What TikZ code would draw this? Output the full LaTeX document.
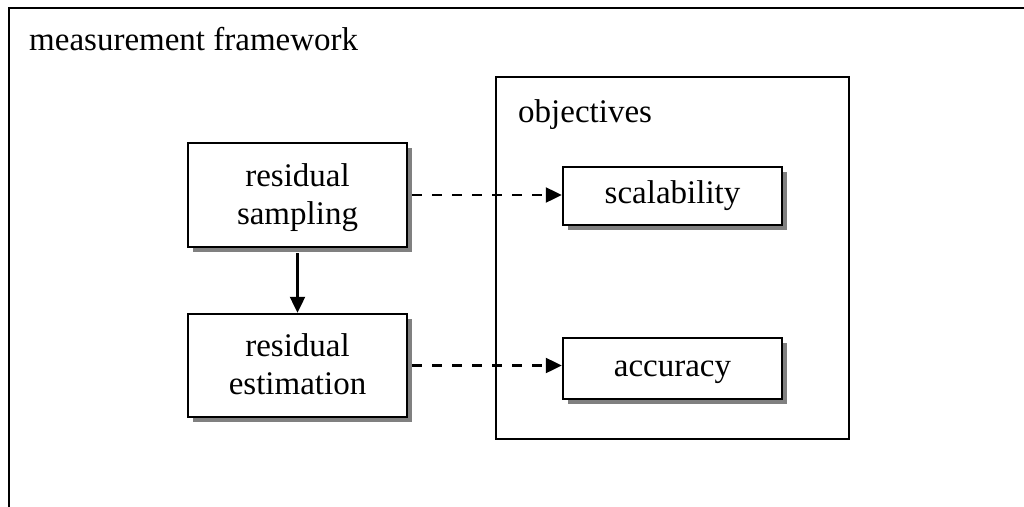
\documentclass[tikz,border=0pt]{standalone}
\usepackage{fontspec}
\setmainfont{Liberation Serif}
\usetikzlibrary{shadows,arrows.meta}
\definecolor{shadowgray}{HTML}{808080}
\newcommand{\topstrut}{\rule{0pt}{28pt}}
\newcommand{\botstrut}{\rule[-8pt]{0pt}{8pt}}
\newcommand{\onestrut}{\rule[-8pt]{0pt}{31pt}}
\tikzset{
  frameline/.style={line width=2.4pt, draw=black},
  boxnode/.style={draw=black, line width=2.4pt, fill=white, minimum width=219pt,
    align=center, inner sep=0pt,
    drop shadow={shadow xshift=5pt, shadow yshift=-5pt, fill=shadowgray, opacity=1}},
  lbl/.style={anchor=base west, inner sep=0pt},
  conn/.style={line width=2.2pt, -{Triangle[length=16pt,width=15pt]}},
  dashconn/.style={conn, dash pattern=on 10pt off 10pt},
}
\begin{document}
\begin{tikzpicture}[x=1pt, y=-1pt, font=\fontsize{33}{38}\selectfont]
\useasboundingbox (0,0) rectangle (1024,506);
% outer frame (open at right and bottom)
\coordinate (fbl) at (9,508);
\coordinate (ftl) at (9,8);
\coordinate (ftr) at (1026,8);
\draw[frameline] (fbl) -- (ftl) -- (ftr);
\node[lbl] (title) at (29,50) {measurement framework};
% objectives box
\node[frameline, minimum width=353pt, minimum height=362pt, inner sep=0pt] (obj) at (672.5,258) {};
\node[lbl] (objlbl) at (518,122) {objectives};
% boxes
\node[boxnode, minimum height=104pt] (samp) at (297.5,195) {\topstrut residual\\sampling\botstrut};
\node[boxnode, minimum height=103pt] (est) at (297.5,365.5) {\topstrut residual\\estimation\botstrut};
\node[boxnode, minimum height=58pt] (scal) at (672.5,196) {\onestrut scalability};
\node[boxnode, minimum height=61pt] (acc) at (672.5,368.5) {\onestrut accuracy};
% connectors
\draw[conn, shorten <=5pt] (samp.south) -- (est.north);
\draw[dashconn, shorten <=4pt] (samp.east) -- (samp.east -| scal.west);
\draw[dashconn, shorten <=4pt] (est.east) -- (est.east -| acc.west);
\end{tikzpicture}
\end{document}
